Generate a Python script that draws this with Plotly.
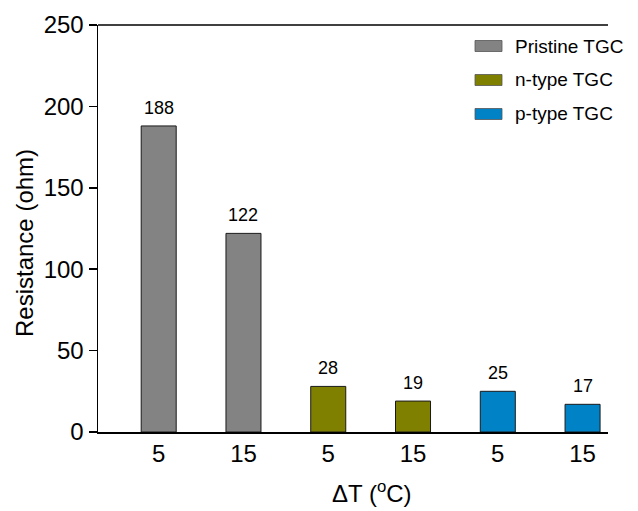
import plotly.graph_objects as go

# Resistance of thermo-galvanic cells at two temperature differences
materials = ["Pristine TGC", "n-type TGC", "p-type TGC"]
delta_t = ["5", "15"]
resistance = {
    "Pristine TGC": [188, 122],
    "n-type TGC": [28, 19],
    "p-type TGC": [25, 17],
}
colors = {
    "Pristine TGC": "#838383",
    "n-type TGC": "#808000",
    "p-type TGC": "#0082C6",
}

FONT = "Liberation Sans, Arial, sans-serif"

fig = go.Figure()

tick_vals, tick_text = [], []
annotations = []
pos = 0
for m in materials:
    xs = [pos + i for i in range(len(delta_t))]
    fig.add_trace(go.Bar(
        x=xs, y=resistance[m], name=m, width=0.413,
        marker=dict(color=colors[m], line=dict(color="#1a1a1a", width=1)),
        showlegend=False,
    ))
    for x, v, t in zip(xs, resistance[m], delta_t):
        tick_vals.append(x)
        tick_text.append(t)
        annotations.append(dict(
            x=x, y=v, xref="x", yref="y", text=str(v), showarrow=False,
            yanchor="bottom", yshift=6, font=dict(family=FONT, size=18, color="black"),
        ))
    pos += len(delta_t)

# Hand-drawn legend with wide swatches
shapes = []
PLOT_L, PLOT_W, PLOT_B, PLOT_H = 98, 510, 432, 407
row_y = [46, 80, 114]
for m, yc in zip(materials, row_y):
    shapes.append(dict(
        type="rect", xref="paper", yref="paper",
        x0=(475 - PLOT_L) / PLOT_W, x1=(502 - PLOT_L) / PLOT_W,
        y0=(PLOT_B - (yc + 5.5)) / PLOT_H, y1=(PLOT_B - (yc - 5.5)) / PLOT_H,
        fillcolor=colors[m], line=dict(color="#555555", width=0.8),
    ))
    annotations.append(dict(
        x=(513 - PLOT_L) / PLOT_W, y=(PLOT_B - yc) / PLOT_H, xref="paper", yref="paper",
        text=m, showarrow=False, xanchor="left", yanchor="middle",
        font=dict(family=FONT, size=19, color="black"),
    ))

# Top frame line (open on the right)
shapes.append(dict(
    type="line", xref="paper", yref="paper", x0=0, x1=1, y0=1, y1=1,
    line=dict(color="black", width=1.5),
))

# Axis titles
annotations.append(dict(
    x=(372 - PLOT_L) / PLOT_W, y=(PLOT_B - 492) / PLOT_H, xref="paper", yref="paper",
    text="ΔT (<sup>o</sup>C)", showarrow=False, xanchor="center", yanchor="middle",
    font=dict(family=FONT, size=24, color="black"),
))
annotations.append(dict(
    x=(24 - PLOT_L) / PLOT_W, y=(PLOT_B - 243) / PLOT_H, xref="paper", yref="paper",
    text="Resistance (ohm)", showarrow=False, textangle=-90,
    xanchor="center", yanchor="middle",
    font=dict(family=FONT, size=24, color="black"),
))

fig.update_layout(
    width=638, height=511,
    margin=dict(l=98, r=30, t=25, b=79),
    paper_bgcolor="white", plot_bgcolor="white",
    font=dict(family=FONT, size=24, color="black"),
    bargap=0,
    xaxis=dict(
        range=[-0.716, 5.3], tickvals=tick_vals, ticktext=tick_text,
        showline=True, linecolor="black", linewidth=1.5,
        ticks="", showgrid=False, zeroline=False,
        tickfont=dict(family=FONT, size=24, color="black"),
    ),
    yaxis=dict(
        range=[0, 250], tickvals=[0, 50, 100, 150, 200, 250],
        showline=True, linecolor="black", linewidth=1.5,
        ticks="outside", ticklen=8, tickwidth=1.5, tickcolor="black",
        showgrid=False, zeroline=False,
        tickfont=dict(family=FONT, size=24, color="black"),
    ),
    shapes=shapes,
    annotations=annotations,
)

fig.write_html("out.html", config={"staticPlot": True, "displayModeBar": False})
